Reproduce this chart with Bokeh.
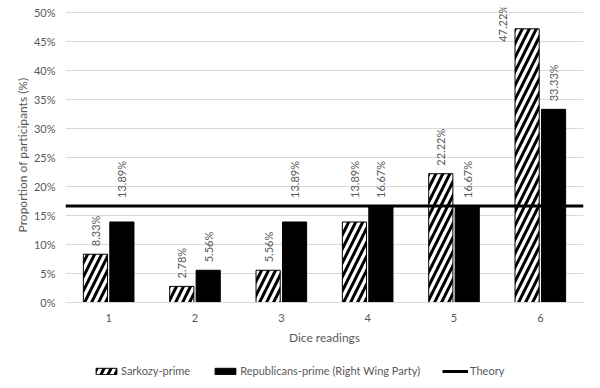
import math
from bokeh.plotting import figure
from bokeh.layouts import column
from bokeh.models import ColumnDataSource, Range1d, FixedTicker, Legend, LegendItem
from bokeh.core.properties import value
from bokeh.embed import file_html
from bokeh.resources import INLINE

# ---- data ----
categories = ["1", "2", "3", "4", "5", "6"]
sarkozy = [8.33, 2.78, 5.56, 13.89, 22.22, 47.22]
republicans = [13.89, 5.56, 13.89, 16.67, 16.67, 33.33]
theory = 16.67
y_ticks = [0, 5, 10, 15, 20, 25, 30, 35, 40, 45, 50]
y_tick_labels = ["0%", "5%", "10%", "15%", "20%", "25%", "30%", "35%", "40%", "45%", "50%"]
series_names = ["Sarkozy-prime", "Republicans-prime (Right Wing Party)", "Theory"]
x_axis_title = "Dice readings"
y_axis_title = "Proportion of participants (%)"

FONT = "Lato"
GREY = "#595959"
GRID = "#d9d9d9"
W = 600

p = figure(width=W, height=352, output_backend="svg", toolbar_location=None,
           x_range=Range1d(0.5, len(categories) + 0.5),
           y_range=Range1d(y_ticks[0], y_ticks[-1] + 0.9),
           min_border_left=65, min_border_right=17, min_border_top=7, min_border_bottom=50)
p.outline_line_color = None
p.background_fill_color = "white"
p.border_fill_color = "white"

xs = [i + 1 for i in range(len(categories))]
dodge = 0.153
bar_w = 0.28
x_s = [x - dodge for x in xs]
x_r = [x + dodge for x in xs]

# axes
p.xaxis.ticker = FixedTicker(ticks=xs)
p.xaxis.major_label_overrides = {x: c for x, c in zip(xs, categories)}
p.xaxis.axis_line_color = GRID
p.xaxis.major_label_standoff = 11
p.xaxis.axis_label = x_axis_title
p.xaxis.axis_label_standoff = 5
p.yaxis.ticker = FixedTicker(ticks=y_ticks)
p.yaxis.major_label_overrides = {t: l for t, l in zip(y_ticks, y_tick_labels)}
p.yaxis.axis_line_color = None
p.yaxis.major_label_standoff = 10
p.yaxis.axis_label = y_axis_title
p.yaxis.axis_label_standoff = 1
for ax in (p.xaxis, p.yaxis):
    ax.major_tick_line_color = None
    ax.minor_tick_line_color = None
    ax.major_tick_out = 0
    ax.major_tick_in = 0
    ax.minor_tick_out = 0
    ax.major_label_text_font = FONT
    ax.major_label_text_font_size = "11px"
    ax.major_label_text_color = GREY
    ax.axis_label_text_font = FONT
    ax.axis_label_text_font_size = "12px"
    ax.axis_label_text_font_style = "normal"
    ax.axis_label_text_color = GREY

p.xgrid.visible = False
p.ygrid.ticker = FixedTicker(ticks=y_ticks)
p.ygrid.grid_line_color = GRID
p.ygrid.grid_line_width = 1

BAR_S = dict(fill_color="white", line_color="black", line_width=1, hatch_pattern="/",
             hatch_color="black", hatch_scale=14, hatch_weight=3)
BAR_R = dict(fill_color="black", line_color="black", line_width=1)
LINE_T = dict(line_color="black", line_width=3)

# bars
src_s = ColumnDataSource(dict(x=x_s, top=sarkozy))
src_r = ColumnDataSource(dict(x=x_r, top=republicans))
p.vbar(x="x", top="top", width=bar_w, source=src_s, **BAR_S)
p.vbar(x="x", top="top", width=bar_w, source=src_r, **BAR_R)

# theory line
p.line(x=[p.x_range.start, p.x_range.end], y=[theory, theory], **LINE_T)

# data labels
gap_pct = 1.4
len_pct = 6.0
lx, ly, lt, lxo, lyo = [], [], [], [], []
for xpos, vals in ((x_s, sarkozy), (x_r, republicans)):
    for x, v in zip(xpos, vals):
        anchor = v
        xo, yo = 0, -8
        if v < theory and v + gap_pct + len_pct > theory:
            anchor = theory
        if v + gap_pct + len_pct > y_ticks[-1]:
            xo, yo = -25, 13
        lx.append(x)
        ly.append(anchor)
        lt.append(f"{v:.2f}%")
        lxo.append(xo)
        lyo.append(yo)
lab_src = ColumnDataSource(dict(x=lx, y=ly, text=lt, xo=lxo, yo=lyo))
p.text(x="x", y="y", text="text", source=lab_src, angle=math.pi / 2,
       x_offset="xo", y_offset="yo", text_align="left", text_baseline="middle",
       text_font=value(FONT), text_font_size="11px", text_color=GREY)

# legend strip (separate figure below the chart)
pl = figure(width=W, height=36, output_backend="svg", toolbar_location=None,
            x_range=Range1d(0, 1), y_range=Range1d(0, 1),
            x_axis_location=None, y_axis_location=None,
            min_border_left=0, min_border_right=0, min_border_top=0, min_border_bottom=0)
pl.grid.visible = False
pl.outline_line_color = None
pl.background_fill_color = "white"
pl.border_fill_color = "white"
# legend sample glyphs: kept far outside the visible range of this strip
l_s = pl.vbar(x=[-50], top=[-50], bottom=[-51], width=0.1, **BAR_S)
l_r = pl.vbar(x=[-50], top=[-50], bottom=[-51], width=0.1, **BAR_R)
l_t = pl.line(x=[-50, -49], y=[-50, -50], **LINE_T)
legend = Legend(items=[LegendItem(label=series_names[0], renderers=[l_s]),
                       LegendItem(label=series_names[1], renderers=[l_r]),
                       LegendItem(label=series_names[2], renderers=[l_t])],
                location=(28, 11), orientation="horizontal",
                glyph_width=26, glyph_height=8, label_height=12, label_standoff=2,
                spacing=22, padding=0, margin=0,
                border_line_color=None, background_fill_alpha=0,
                label_text_font=FONT, label_text_font_size="11px",
                label_text_color=GREY)
pl.add_layout(legend)

layout = column(p, pl, spacing=0)
open("out.html", "w").write(file_html(layout, INLINE))
